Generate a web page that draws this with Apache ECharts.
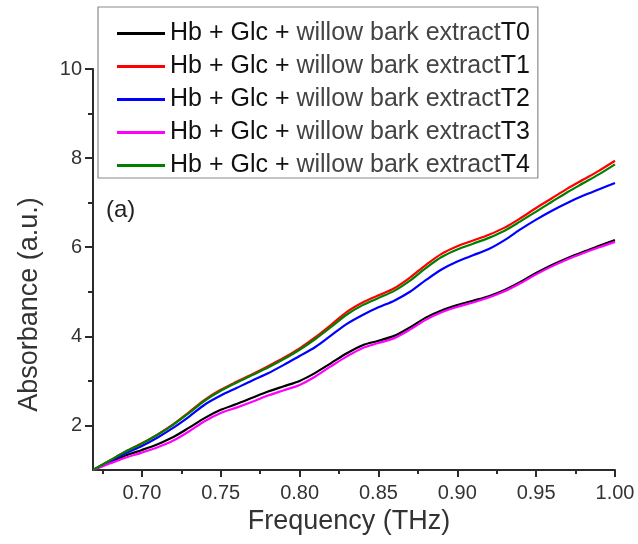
<!DOCTYPE html>
<html>
<head>
<meta charset="utf-8">
<script src="https://cdn.jsdelivr.net/npm/echarts@6/dist/echarts.min.js"></script>
<style>
html,body{margin:0;padding:0;background:#fff;}
#chart{width:638px;height:544px;}
</style>
</head>
<body>
<div id="chart"></div>
<script>
// ---- data ----
const freq = [0.669, 0.68, 0.69, 0.70, 0.71, 0.72, 0.73, 0.74, 0.75, 0.76, 0.77, 0.78, 0.79, 0.80, 0.81, 0.82, 0.83, 0.84, 0.85, 0.86, 0.87, 0.88, 0.89, 0.90, 0.91, 0.92, 0.93, 0.94, 0.95, 0.96, 0.97, 0.98, 0.99, 1.00];
const seriesNames = [
  'Hb + Glc + willow bark extractT0',
  'Hb + Glc + willow bark extractT1',
  'Hb + Glc + willow bark extractT2',
  'Hb + Glc + willow bark extractT3',
  'Hb + Glc + willow bark extractT4'
];
const T0 = [1.00, 1.18, 1.33, 1.45, 1.58, 1.74, 1.95, 2.17, 2.35, 2.48, 2.62, 2.76, 2.88, 3.00, 3.18, 3.40, 3.62, 3.80, 3.90, 4.01, 4.20, 4.42, 4.58, 4.70, 4.80, 4.90, 5.04, 5.22, 5.42, 5.60, 5.76, 5.90, 6.03, 6.16];
const T1 = [1.00, 1.22, 1.42, 1.60, 1.80, 2.03, 2.30, 2.58, 2.80, 2.98, 3.15, 3.33, 3.52, 3.73, 3.98, 4.26, 4.55, 4.76, 4.92, 5.08, 5.32, 5.60, 5.85, 6.02, 6.15, 6.28, 6.44, 6.65, 6.88, 7.10, 7.32, 7.52, 7.72, 7.94];
const T2 = [1.00, 1.20, 1.38, 1.54, 1.73, 1.95, 2.20, 2.47, 2.67, 2.84, 3.01, 3.17, 3.36, 3.56, 3.76, 4.02, 4.28, 4.48, 4.65, 4.80, 5.00, 5.26, 5.50, 5.68, 5.82, 5.96, 6.16, 6.40, 6.62, 6.82, 7.00, 7.16, 7.30, 7.44];
const T3 = [1.00, 1.15, 1.28, 1.39, 1.51, 1.66, 1.87, 2.10, 2.28, 2.40, 2.53, 2.67, 2.79, 2.91, 3.10, 3.33, 3.55, 3.74, 3.85, 3.96, 4.15, 4.37, 4.54, 4.66, 4.76, 4.87, 5.01, 5.19, 5.39, 5.57, 5.73, 5.87, 6.00, 6.12];
const T4 = [1.00, 1.22, 1.42, 1.59, 1.79, 2.02, 2.28, 2.56, 2.78, 2.96, 3.13, 3.30, 3.49, 3.70, 3.94, 4.21, 4.49, 4.70, 4.86, 5.02, 5.25, 5.53, 5.78, 5.95, 6.08, 6.21, 6.37, 6.58, 6.80, 7.02, 7.24, 7.44, 7.64, 7.86];
const xTicks = [0.70, 0.75, 0.80, 0.85, 0.90, 0.95, 1.00];
const xMinorTicks = [0.675, 0.725, 0.775, 0.825, 0.875, 0.925, 0.975];
const yTicks = [2, 4, 6, 8, 10];
const yMinorTicks = [3, 5, 7, 9];
const colors = ['#000000', '#ff0000', '#0000ff', '#ff00ff', '#008000'];

// ---- chart ----
const allValues = [T0, T1, T2, T3, T4];
const axisColor = '#2b2b2b';
const tickFont = 'Liberation Sans, Arial, sans-serif';

const series = seriesNames.map((name, i) => ({
  name: name,
  type: 'line',
  xAxisIndex: 0,
  yAxisIndex: 0,
  smooth: 0.3,
  symbol: 'none',
  lineStyle: { width: 2.2, color: colors[i] },
  itemStyle: { color: colors[i] },
  data: freq.map((f, k) => [f, allValues[i][k]])
}));

const chart = echarts.init(document.getElementById('chart'), null, { renderer: 'canvas' });
chart.setOption({
  animation: false,
  backgroundColor: '#ffffff',
  grid: { left: 93, right: 23, top: 69, bottom: 74, containLabel: false },
  title: {
    text: '(a)',
    left: 101,
    top: 193,
    textStyle: { fontFamily: tickFont, fontSize: 24, fontWeight: 'normal', color: '#222' }
  },
  legend: {
    orient: 'vertical',
    left: 98,
    top: 7,
    padding: [14, 8, 0, 19],
    itemGap: 8,
    itemWidth: 48,
    itemHeight: 3,
    icon: 'rect',
    borderColor: '#8a8a8a',
    borderWidth: 1.2,
    data: seriesNames,
    formatter: function (name) {
      const idx = name.indexOf('willow');
      const head = name.slice(0, idx);
      const mid = 'willow bark extract';
      const tail = name.slice(idx + mid.length);
      return '{a|' + head + '}{b|' + mid + '}{a|' + tail + '}';
    },
    textStyle: {
      rich: {
        a: { fontFamily: tickFont, fontSize: 25, color: '#111', lineHeight: 24 },
        b: { fontFamily: tickFont, fontSize: 25, color: '#444', lineHeight: 24 }
      }
    }
  },
  xAxis: [
    {
      type: 'value',
      min: 0.669,
      max: 1.0,
      name: 'Frequency (THz)',
      nameLocation: 'middle',
      nameGap: 38,
      nameTextStyle: { fontFamily: tickFont, fontSize: 27, color: '#333', padding: [0, 10, 0, 0] },
      axisLine: { show: true, onZero: false, lineStyle: { color: axisColor, width: 2 } },
      axisTick: { show: true, inside: false, length: 7, customValues: xTicks, lineStyle: { color: axisColor, width: 2 } },
      axisLabel: {
        customValues: xTicks,
        margin: 13,
        fontFamily: tickFont,
        fontSize: 20,
        color: '#333',
        formatter: v => v.toFixed(2)
      },
      splitLine: { show: false }
    },
    {
      type: 'value',
      min: 0.669,
      max: 1.0,
      position: 'bottom',
      axisLine: { show: false, onZero: false },
      axisTick: { show: true, inside: false, length: 4, customValues: xMinorTicks, lineStyle: { color: axisColor, width: 2 } },
      axisLabel: { show: false },
      splitLine: { show: false }
    }
  ],
  yAxis: [
    {
      type: 'value',
      min: 1,
      max: 10,
      name: 'Absorbance (a.u.)',
      nameLocation: 'middle',
      nameGap: 50,
      nameTextStyle: { fontFamily: tickFont, fontSize: 27, color: '#333', padding: [0, 70, 0, 0] },
      axisLine: { show: true, onZero: false, lineStyle: { color: axisColor, width: 2 } },
      axisTick: { show: true, inside: false, length: 8, customValues: yTicks, lineStyle: { color: axisColor, width: 2 } },
      axisLabel: {
        customValues: yTicks,
        margin: 11,
        fontFamily: tickFont,
        fontSize: 20,
        color: '#333'
      },
      splitLine: { show: false }
    },
    {
      type: 'value',
      min: 1,
      max: 10,
      position: 'left',
      axisLine: { show: false, onZero: false },
      axisTick: { show: true, inside: false, length: 5, customValues: yMinorTicks, lineStyle: { color: axisColor, width: 2 } },
      axisLabel: { show: false },
      splitLine: { show: false }
    }
  ],
  series: series
});
</script>
</body>
</html>
